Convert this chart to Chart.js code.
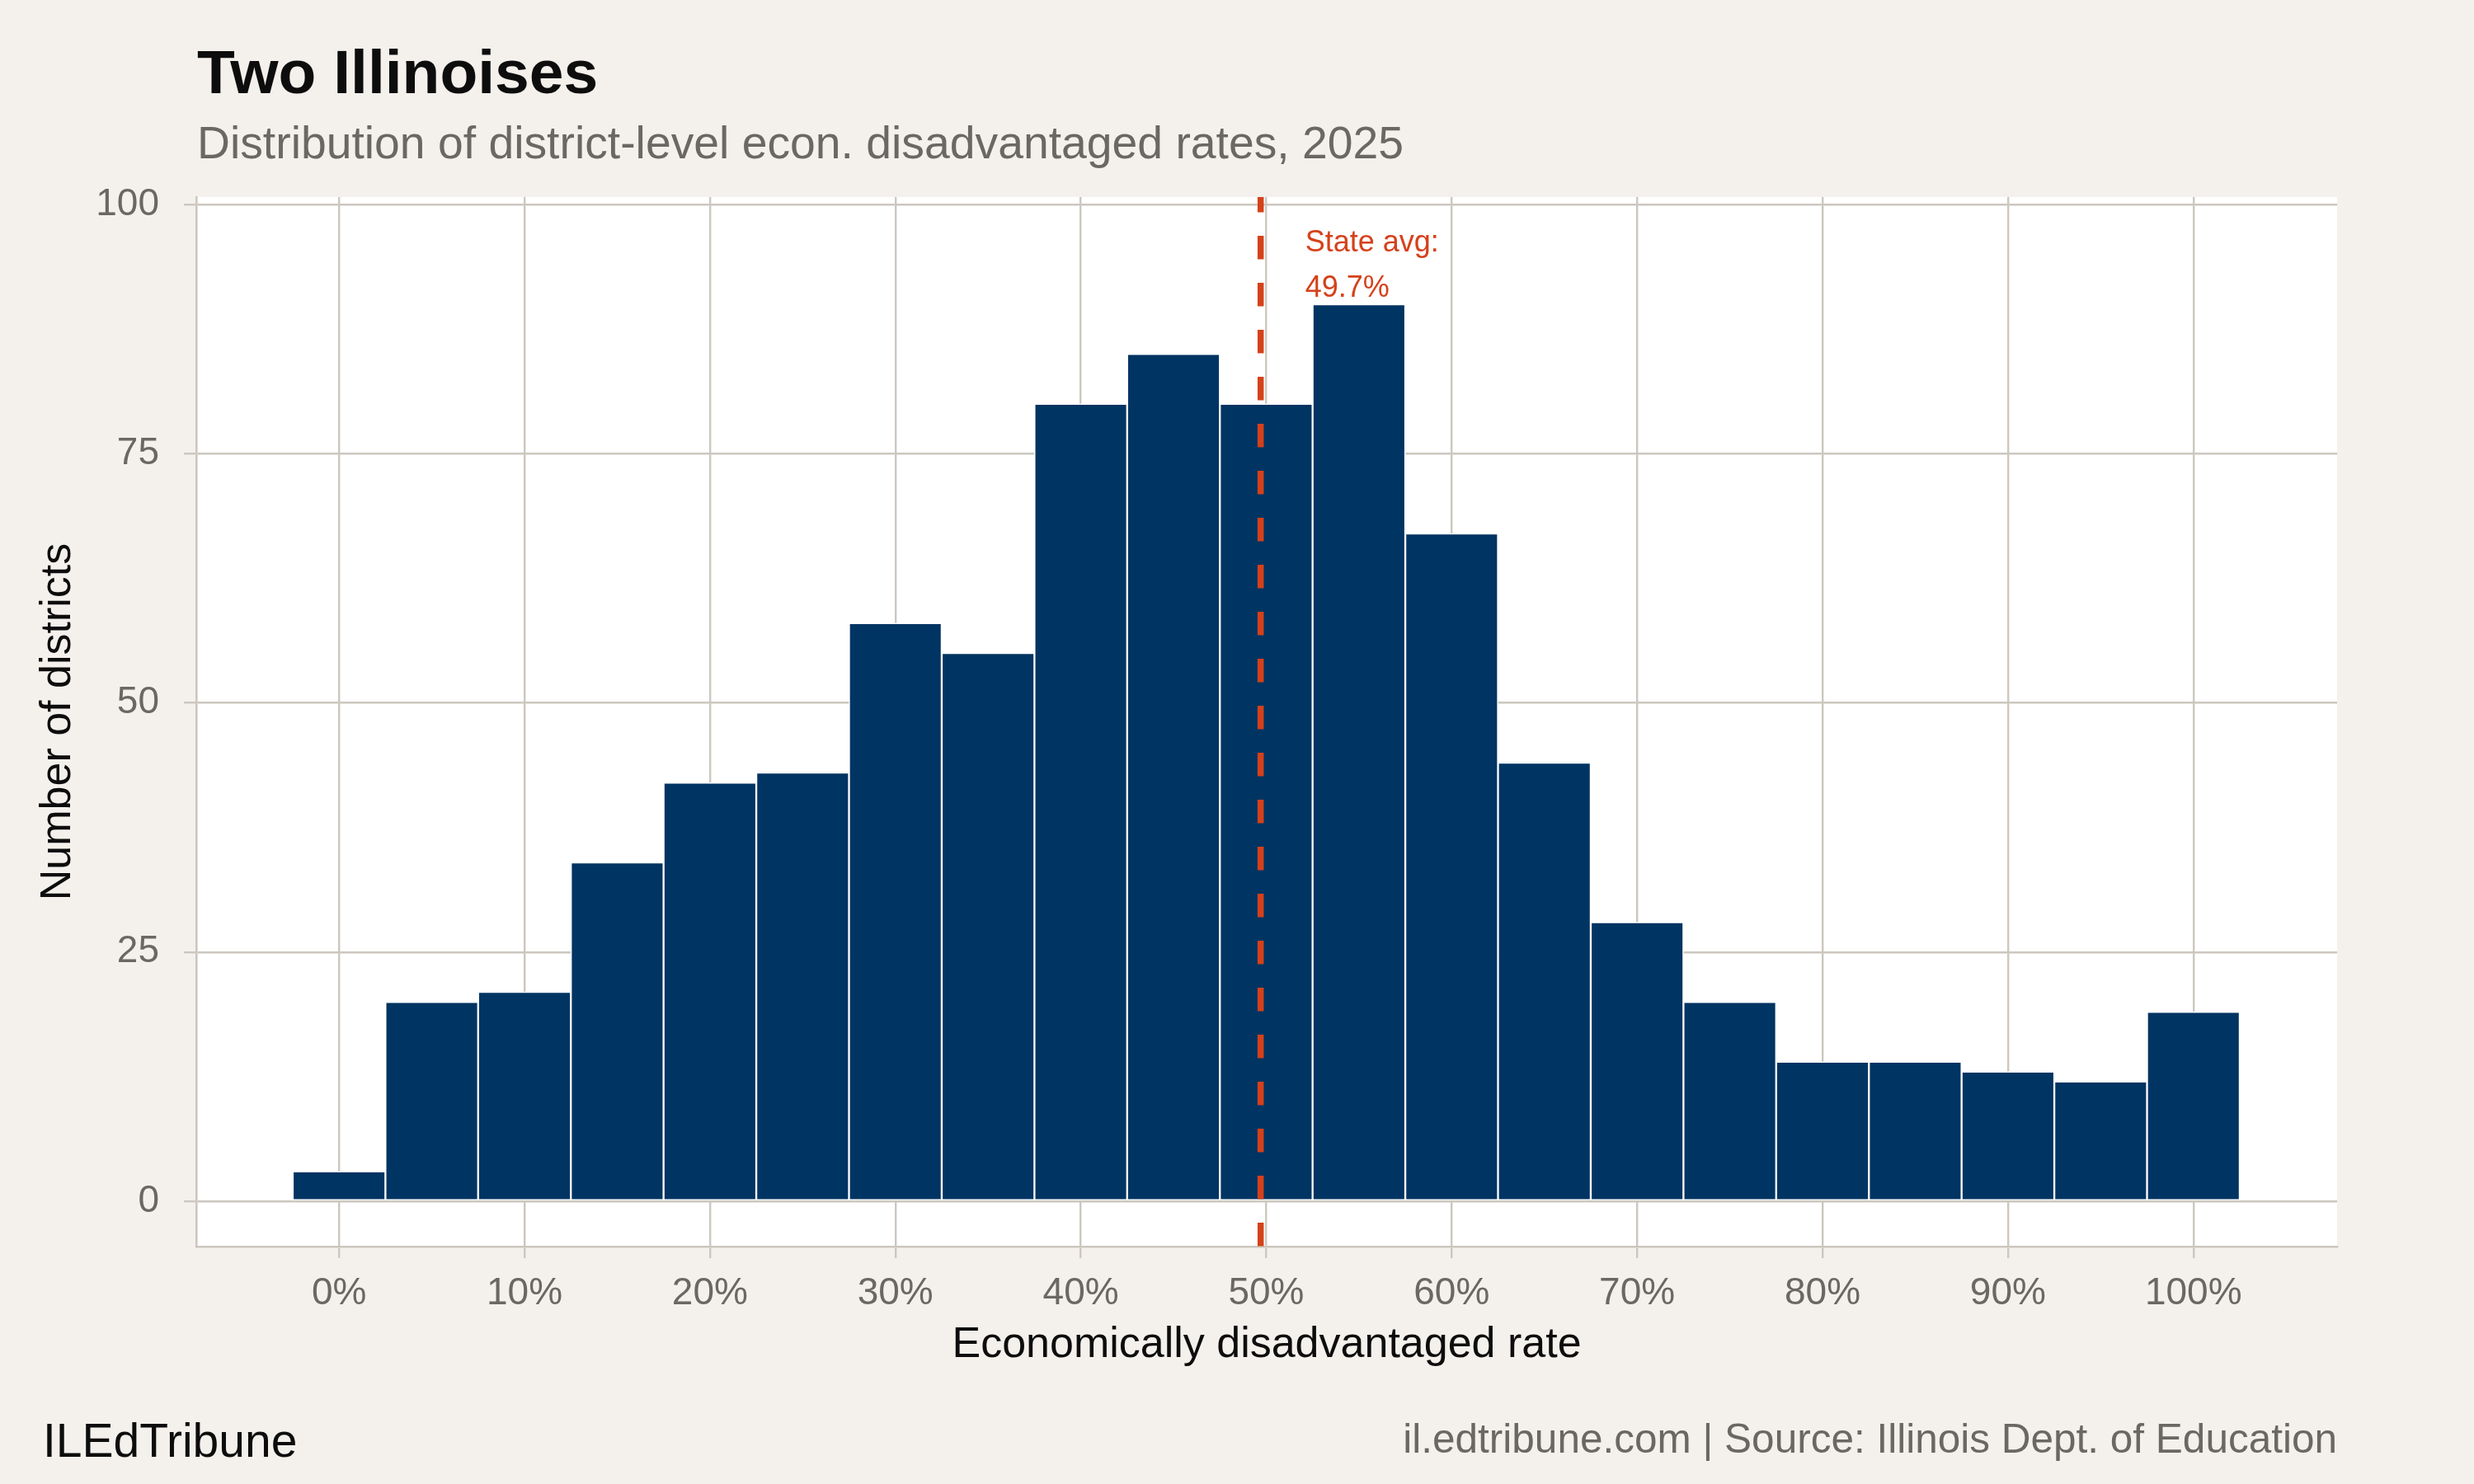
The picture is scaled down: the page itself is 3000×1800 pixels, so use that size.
<!DOCTYPE html>
<html>
<head>
<meta charset="utf-8">
<title>Two Illinoises</title>
<script src="https://cdn.jsdelivr.net/npm/chart.js@4.4.1/dist/chart.umd.min.js"></script>
<style>
  html, body { margin: 0; padding: 0; background: #F4F1EC; }
  canvas { display: block; }
</style>
</head>
<body>
<canvas id="histChart" width="3000" height="1800" style="width:3000px;height:1800px"></canvas>
<script>
/* ===============================
   DATA
   =============================== */
const binCenters = [0, 5, 10, 15, 20, 25, 30, 35, 40, 45, 50, 55, 60, 65, 70, 75, 80, 85, 90, 95, 100];
const districtCounts = [3, 20, 21, 34, 42, 43, 58, 55, 80, 85, 80, 90, 67, 44, 28, 20, 14, 14, 13, 12, 19];
const xTicks = [0, 10, 20, 30, 40, 50, 60, 70, 80, 90, 100];
const yTicks = [0, 25, 50, 75, 100];
const stateAvg = 49.7;

/* ===============================
   STYLE
   =============================== */
const FONT = "'Liberation Sans', Arial, Helvetica, sans-serif";
const PAGE_BG = "#F4F1EC";
const GRID = "#CCC7BF";
const BAR = "#003462";
const ACCENT = "#D5411A";
const GREY_TEXT = "#6B6862";
const DARK_TEXT = "#0D0D0D";

// page + panel backgrounds, reference line, titles
const decorPlugin = {
  id: "decor",
  beforeDraw(chart) {
    const { ctx, chartArea: a } = chart;
    ctx.save();
    ctx.fillStyle = PAGE_BG;
    ctx.fillRect(0, 0, chart.width, chart.height);
    ctx.fillStyle = "#FFFFFF";
    ctx.fillRect(a.left, a.top, a.right - a.left, a.bottom - a.top);
    ctx.restore();
  },
  afterDatasetsDraw(chart) {
    const { ctx, chartArea: a, scales } = chart;
    const x = scales.x.getPixelForValue(stateAvg);

    ctx.save();
    ctx.strokeStyle = ACCENT;
    ctx.lineWidth = 7.5;
    ctx.setLineDash([28.5, 28.5]);
    ctx.lineDashOffset = 10;
    ctx.beginPath();
    ctx.moveTo(x, a.top);
    ctx.lineTo(x, a.bottom);
    ctx.stroke();
    ctx.setLineDash([]);

    ctx.fillStyle = ACCENT;
    ctx.font = `36px ${FONT}`;
    ctx.textAlign = "left";
    ctx.textBaseline = "middle";
    const tx = scales.x.getPixelForValue(stateAvg + 2.4);
    ctx.fillText("State avg:", tx, scales.y.getPixelForValue(96.1));
    ctx.fillText(stateAvg.toFixed(1) + "%", tx, scales.y.getPixelForValue(91.6));
    ctx.restore();
  },
  afterDraw(chart) {
    const { ctx, chartArea: a } = chart;
    ctx.save();
    ctx.textBaseline = "alphabetic";
    ctx.textAlign = "left";

    ctx.fillStyle = DARK_TEXT;
    ctx.font = `bold 75px ${FONT}`;
    ctx.fillText("Two Illinoises", 239, 113);

    ctx.fillStyle = GREY_TEXT;
    ctx.font = `55.3px ${FONT}`;
    ctx.fillText("Distribution of district-level econ. disadvantaged rates, 2025", 239, 192);

    ctx.fillStyle = DARK_TEXT;
    ctx.font = `57px ${FONT}`;
    ctx.fillText("ILEdTribune", 52, 1767);

    ctx.fillStyle = GREY_TEXT;
    ctx.font = `49.5px ${FONT}`;
    ctx.textAlign = "right";
    ctx.fillText("il.edtribune.com | Source: Illinois Dept. of Education", a.right, 1762);
    ctx.restore();
  }
};

new Chart(document.getElementById("histChart"), {
  type: "bar",
  data: {
    datasets: [{
      data: binCenters.map((c, i) => ({ x: c, y: districtCounts[i] })),
      backgroundColor: BAR,
      borderColor: "#FFFFFF",
      borderWidth: 1.5,
      borderSkipped: false,
      barPercentage: 1,
      categoryPercentage: 1
    }]
  },
  options: {
    responsive: false,
    devicePixelRatio: 1,
    animation: false,
    layout: { padding: { top: 239, right: 166, bottom: 100, left: 0 } },
    plugins: {
      legend: { display: false },
      tooltip: { enabled: false }
    },
    scales: {
      x: {
        type: "linear",
        offset: false,
        min: -7.7,
        max: 107.75,
        afterBuildTicks: s => { s.ticks = xTicks.map(v => ({ value: v })); },
        afterFit: s => { s.height = 188; },
        grid: { offset: false, color: GRID, lineWidth: 2.4, tickLength: 14, tickColor: GRID },
        border: { color: GRID, width: 2.6 },
        ticks: {
          color: GREY_TEXT,
          font: { family: FONT, size: 46 },
          padding: 16,
          maxRotation: 0,
          autoSkip: false,
          callback: v => v + "%"
        },
        title: {
          display: true,
          text: "Economically disadvantaged rate",
          color: DARK_TEXT,
          font: { family: FONT, size: 52 },
          padding: { top: 0, bottom: 37 }
        }
      },
      y: {
        min: -4.55,
        max: 100.75,
        afterBuildTicks: s => { s.ticks = yTicks.map(v => ({ value: v })); },
        afterFit: s => { s.width = 238; },
        grid: { color: GRID, lineWidth: 2.4, tickLength: 15, tickColor: GRID },
        border: { color: GRID, width: 2.6 },
        ticks: {
          color: GREY_TEXT,
          font: { family: FONT, size: 46 },
          padding: 30,
          callback: v => String(v)
        },
        title: {
          display: true,
          text: "Number of districts",
          color: DARK_TEXT,
          font: { family: FONT, size: 52 },
          padding: { top: 39, bottom: 0 }
        }
      }
    }
  },
  plugins: [decorPlugin]
});
</script>
</body>
</html>
